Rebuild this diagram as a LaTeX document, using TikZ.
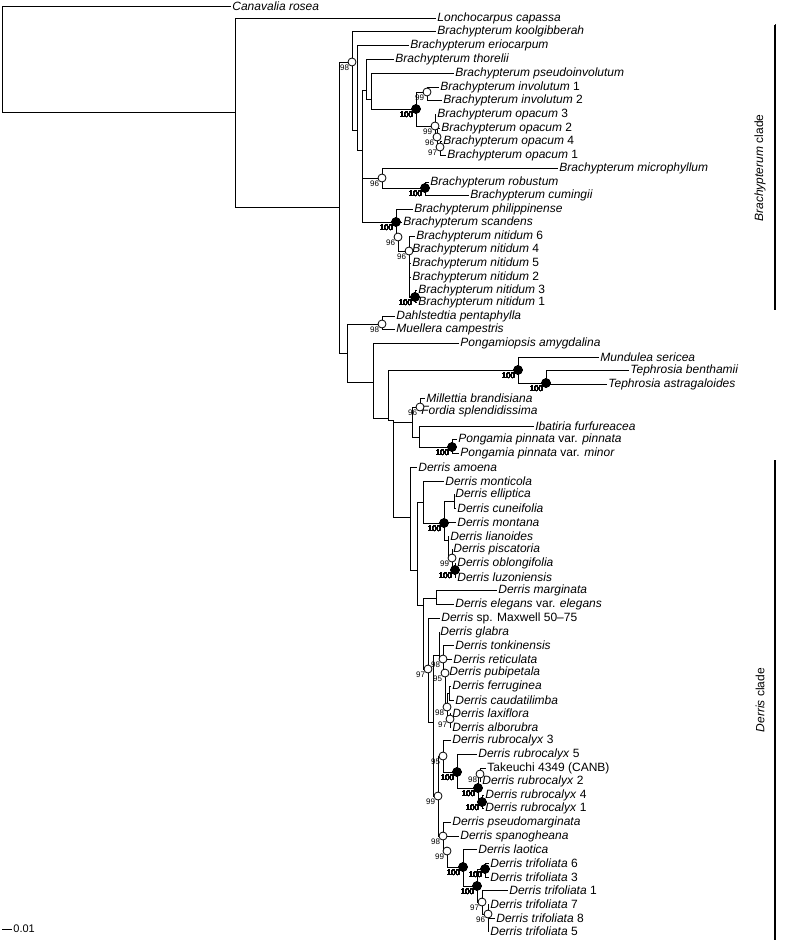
\documentclass[tikz,border=0pt]{standalone}
\usepackage{fontspec}
\setmainfont{Liberation Sans}
\tikzstyle{taxon}=[anchor=west,inner sep=1pt,font=\fontsize{12}{12}\selectfont]
\tikzstyle{wdot}=[circle,draw,fill=white,inner sep=0pt,minimum size=8pt]
\tikzstyle{bdot}=[circle,draw,fill=black,inner sep=0pt,minimum size=8pt]
\tikzstyle{boot}=[anchor=north east,inner sep=0.5pt,font=\fontsize{8}{8}\selectfont]
\newcommand{\wsupp}[2]{
  \node[wdot] at (#1) {};
  \node[boot] at ([xshift=-2pt,yshift=-2pt]#1) {#2};
}
\newcommand{\bsupp}[2]{
  \node[bdot] at (#1) {};
  \node[boot] at ([xshift=-2pt,yshift=-2pt]#1) {#2};
}
\begin{document}
\begin{tikzpicture}[x=1pt,y=-1pt,line width=0.8pt]
\useasboundingbox (0,0) rectangle (787,941);
% internal nodes
\foreach \n/\x/\y in {root/2/60,nA/235/112,nB/339/207,nBr/352/62,nD/357/130,nE/362/150,nF/366/90,
  nH/371/99,nI/416/109,nJ/427/92,nK/435/126,nL/437/137,nM/440/147,nN/382/178,nP/425/188,
  nO/396/222,nQ/398/237,nR/409/251,nS/415/297,nC/347/353,nDM/382/324,nT/373/382,nU/388/418,
  nW/518/370,nX/546/383,nU2/393/420,nMFI/412/422,nMF/420/407,nIP/419/437,nPp/452/447,
  nDall/410/517,nD2/417/570,nM1/423/502,nB100/444/523,nEC/454/501,nLz/448/540,nW99/452/558,
  nB100z/455/570,nD3/423/605,nME/436/598,nD4/428/669,nDx/433/722,nG1/439/655,nN98/443/659,
  nN95/445/673,nN98b/447/707,nFC/449/693,nN97b/450/719,nN99/438/796,nR95/443/756,
  nR100/457/772,nR100b/478/788,nT98/480/774,nR100c/482/802,nN98c/443/836,nN99b/447/851,
  nL100/463/867,nL100b/477/886,nT100/485/869,nT97/482/902,nT96/488/914}
  \coordinate (\n) at (\x,\y);
% taxa
\node[taxon] (cana) at (231,6) {\textit{Canavalia rosea}};
\node[taxon] (lonch) at (436,18) {\textit{Lonchocarpus capassa}};
\node[taxon] (kool) at (436,31) {\textit{Brachypterum koolgibberah}};
\node[taxon] (erio) at (409,45) {\textit{Brachypterum eriocarpum}};
\node[taxon] (thor) at (394,59) {\textit{Brachypterum thorelii}};
\node[taxon] (pseu) at (454,73) {\textit{Brachypterum pseudoinvolutum}};
\node[taxon] (inv1) at (439,87) {\textit{Brachypterum involutum} 1};
\node[taxon] (inv2) at (442,100) {\textit{Brachypterum involutum} 2};
\node[taxon] (op3) at (436,114) {\textit{Brachypterum opacum} 3};
\node[taxon] (op2) at (440,128) {\textit{Brachypterum opacum} 2};
\node[taxon] (op4) at (442,141) {\textit{Brachypterum opacum} 4};
\node[taxon] (op1) at (446,155) {\textit{Brachypterum opacum} 1};
\node[taxon] (micro) at (558,168) {\textit{Brachypterum microphyllum}};
\node[taxon] (robu) at (429,182) {\textit{Brachypterum robustum}};
\node[taxon] (cumi) at (469,195) {\textit{Brachypterum cumingii}};
\node[taxon] (phil) at (413,209) {\textit{Brachypterum philippinense}};
\node[taxon] (scan) at (402,222) {\textit{Brachypterum scandens}};
\node[taxon] (nit6) at (415,236) {\textit{Brachypterum nitidum} 6};
\node[taxon] (nit4) at (411,249) {\textit{Brachypterum nitidum} 4};
\node[taxon] (nit5) at (411,263) {\textit{Brachypterum nitidum} 5};
\node[taxon] (nit2) at (411,277) {\textit{Brachypterum nitidum} 2};
\node[taxon] (nit3) at (417,290) {\textit{Brachypterum nitidum} 3};
\node[taxon] (nit1) at (417,302) {\textit{Brachypterum nitidum} 1};
\node[taxon] (dahl) at (395,316) {\textit{Dahlstedtia pentaphylla}};
\node[taxon] (muel) at (395,329) {\textit{Muellera campestris}};
\node[taxon] (pgms) at (459,343) {\textit{Pongamiopsis amygdalina}};
\node[taxon] (mund) at (599,357) {\textit{Mundulea sericea}};
\node[taxon] (tben) at (629,370) {\textit{Tephrosia benthamii}};
\node[taxon] (tast) at (607,384) {\textit{Tephrosia astragaloides}};
\node[taxon] (mill) at (425,398) {\textit{Millettia brandisiana}};
\node[taxon] (ford) at (420,411) {\textit{Fordia splendidissima}};
\node[taxon] (ibat) at (534,426) {\textit{Ibatiria furfureacea}};
\node[taxon] (ppin) at (457,439) {\textit{Pongamia pinnata} var. \textit{pinnata}};
\node[taxon] (pmin) at (459,453) {\textit{Pongamia pinnata} var. \textit{minor}};
\node[taxon] (amoe) at (417,467) {\textit{Derris amoena}};
\node[taxon] (mont) at (444,481) {\textit{Derris monticola}};
\node[taxon] (elli) at (454,494) {\textit{Derris elliptica}};
\node[taxon] (cune) at (456,508) {\textit{Derris cuneifolia}};
\node[taxon] (mtna) at (456,522) {\textit{Derris montana}};
\node[taxon] (lian) at (449,536) {\textit{Derris lianoides}};
\node[taxon] (pisc) at (452,549) {\textit{Derris piscatoria}};
\node[taxon] (oblo) at (456,563) {\textit{Derris oblongifolia}};
\node[taxon] (luzo) at (456,577) {\textit{Derris luzoniensis}};
\node[taxon] (marg) at (497,590) {\textit{Derris marginata}};
\node[taxon] (eleg) at (454,604) {\textit{Derris elegans} var. \textit{elegans}};
\node[taxon] (maxw) at (440,618) {\textit{Derris} sp. Maxwell 50--75};
\node[taxon] (glab) at (439,632) {\textit{Derris glabra}};
\node[taxon] (tonk) at (454,645) {\textit{Derris tonkinensis}};
\node[taxon] (reti) at (452,659) {\textit{Derris reticulata}};
\node[taxon] (pubi) at (448,672) {\textit{Derris pubipetala}};
\node[taxon] (ferr) at (451,686) {\textit{Derris ferruginea}};
\node[taxon] (caud) at (454,700) {\textit{Derris caudatilimba}};
\node[taxon] (laxi) at (451,713) {\textit{Derris laxiflora}};
\node[taxon] (albo) at (451,727) {\textit{Derris alborubra}};
\node[taxon] (rub3) at (451,740) {\textit{Derris rubrocalyx} 3};
\node[taxon] (rub5) at (477,754) {\textit{Derris rubrocalyx} 5};
\node[taxon] (take) at (486,768) {Takeuchi 4349 (CANB)};
\node[taxon] (rub2) at (481,781) {\textit{Derris rubrocalyx} 2};
\node[taxon] (rub4) at (484,795) {\textit{Derris rubrocalyx} 4};
\node[taxon] (rub1) at (484,808) {\textit{Derris rubrocalyx} 1};
\node[taxon] (psem) at (451,822) {\textit{Derris pseudomarginata}};
\node[taxon] (spano) at (459,836) {\textit{Derris spanogheana}};
\node[taxon] (laot) at (477,849) {\textit{Derris laotica}};
\node[taxon] (tri6) at (489,863) {\textit{Derris trifoliata} 6};
\node[taxon] (tri3) at (489,877) {\textit{Derris trifoliata} 3};
\node[taxon] (tri1) at (508,890) {\textit{Derris trifoliata} 1};
\node[taxon] (tri7) at (489,904) {\textit{Derris trifoliata} 7};
\node[taxon] (tri8) at (495,918) {\textit{Derris trifoliata} 8};
\node[taxon] (tri5) at (489,931) {\textit{Derris trifoliata} 5};
% branches
\foreach \p/\c in {root/cana,root/nA,nA/lonch,nA/nB,nB/nBr,nB/nC,nBr/kool,nBr/nD,nD/erio,nD/nE,
  nE/nF,nE/nN,nE/nO,nF/thor,nF/nH,nH/pseu,nH/nI,nI/nJ,nI/nK,nJ/inv1,nJ/inv2,nK/op3,nK/nL,
  nL/op2,nL/nM,nM/op4,nM/op1,nN/micro,nN/nP,nP/robu,nP/cumi,nO/phil,nO/scan,nO/nQ,nQ/nR,
  nR/nit6,nR/nit4,nR/nit5,nR/nit2,nR/nS,nS/nit3,nS/nit1,
  nC/nDM,nC/nT,nDM/dahl,nDM/muel,nT/pgms,nT/nU,nU/nW,nU/nU2,nW/mund,nW/nX,nX/tben,nX/tast,
  nU2/nMFI,nU2/nDall,nMFI/nMF,nMFI/nIP,nMF/mill,nMF/ford,nIP/ibat,nIP/nPp,nPp/ppin,nPp/pmin,
  nDall/amoe,nDall/nD2,nD2/nM1,nD2/nD3,nM1/mont,nM1/nB100,nB100/nEC,nB100/mtna,nB100/nLz,
  nEC/elli,nEC/cune,nLz/lian,nLz/nW99,nW99/pisc,nW99/nB100z,nB100z/oblo,nB100z/luzo,
  nD3/nME,nD3/nD4,nME/marg,nME/eleg,nD4/maxw,nD4/nDx,nDx/nG1,nDx/nN99,nG1/glab,nG1/nN98,
  nN98/tonk,nN98/reti,nN98/nN95,nN95/pubi,nN95/nN98b,nN98b/nFC,nN98b/nN97b,nFC/ferr,
  nFC/caud,nN97b/laxi,nN97b/albo,nN99/nR95,nN99/nN98c,nR95/rub3,nR95/nR100,nR100/rub5,
  nR100/nR100b,nR100b/nT98,nR100b/nR100c,nT98/take,nT98/rub2,nR100c/rub4,nR100c/rub1,
  nN98c/psem,nN98c/spano,nN98c/nN99b,nN99b/nL100,nL100/laot,nL100/nL100b,nL100b/nT100,
  nL100b/nT97,nT100/tri6,nT100/tri3,nT97/tri1,nT97/nT96,nT96/tri7,nT96/tri8,nT96/tri5}
  \draw (\p) |- (\c);
% support values
\foreach \n/\v in {nBr/98,nJ/99,nK/99,nL/96,nM/97,nN/96,nQ/96,nR/96,nDM/98,nMF/96,nW99/99,
  nD4/97,nN98/98,nN95/95,nN98b/98,nN97b/97,nN99/99,nR95/95,nT98/98,nN98c/98,nN99b/99,
  nT97/97,nT96/96}
  \wsupp{\n}{\v}
\foreach \n in {nI,nP,nO,nS,nW,nX,nPp,nB100,nB100z,nR100,nR100b,nR100c,nL100,nL100b,nT100}
  \bsupp{\n}{100}
% clades
\draw[line width=2pt] (775,25) coordinate (bt) -- (775,310) coordinate (bb);
\node[rotate=90,font=\fontsize{12}{12}\selectfont] (bclade) at (760,168) {\textit{Brachypterum} clade};
\draw[line width=2pt] (775,460) coordinate (dt) -- (775,940) coordinate (db);
\node[rotate=90,font=\fontsize{12}{12}\selectfont] (dclade) at (760,700) {\textit{Derris} clade};
% scale
\draw (2,929) coordinate (s0) -- (12,929) coordinate (s1);
\node[anchor=west,inner sep=1pt,font=\fontsize{11}{11}\selectfont] (scl) at (s1) {0.01};
\end{tikzpicture}
\end{document}
